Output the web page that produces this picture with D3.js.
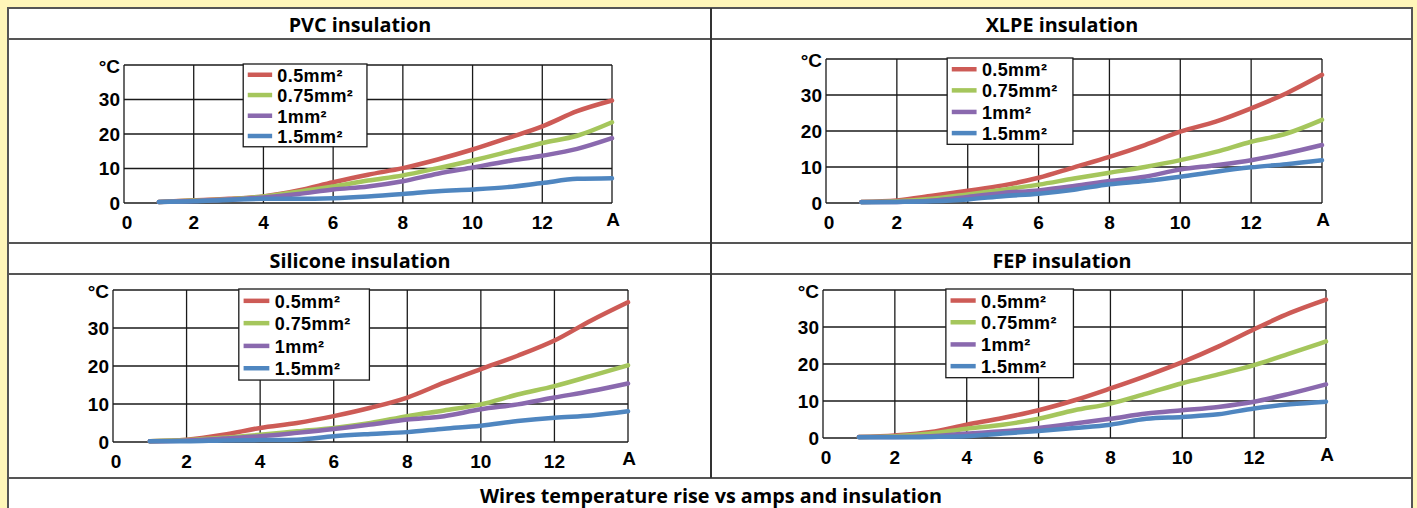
<!DOCTYPE html>
<html>
<head>
<meta charset="utf-8">
<script src="https://cdn.jsdelivr.net/npm/d3@7"></script>
<style>
  html, body { margin: 0; padding: 0; background: #fff6b9; }
  svg { display: block; }
</style>
</head>
<body>
<svg width="1417" height="508"></svg>
<script>
// amps on the x axis, one reading per amp
var amps = [1, 2, 3, 4, 5, 6, 7, 8, 9, 10, 11, 12, 13, 14];
var sizes = ["0.5mm²", "0.75mm²", "1mm²", "1.5mm²"];
var xTicks = [0, 2, 4, 6, 8, 10, 12];
var yTicks = [0, 10, 20, 30];
var titles = ["PVC insulation", "XLPE insulation", "Silicone insulation", "FEP insulation"];
var caption = "Wires temperature rise vs amps and insulation";

// temperature rise (°C)
var pvc05  = [0.3, 0.8, 1.2, 1.9, 3.6, 6.0, 8.2, 10.1, 12.6, 15.5, 18.8, 22.2, 26.6, 29.7];
var pvc075 = [0.3, 0.7, 1.1, 1.9, 3.3, 4.8, 6.5, 8.0, 10.1, 12.3, 14.8, 17.4, 19.5, 23.4];
var pvc1   = [0.3, 0.6, 1.0, 1.6, 2.6, 3.9, 4.8, 6.3, 8.5, 10.3, 12.1, 13.7, 15.7, 18.8];
var pvc15  = [0.3, 0.5, 0.9, 1.2, 1.2, 1.4, 1.9, 2.6, 3.4, 3.9, 4.6, 5.8, 7.0, 7.2];

var xlpe05  = [0.3, 0.7, 2.0, 3.4, 4.9, 7.0, 9.9, 12.8, 16.1, 19.8, 22.6, 26.3, 30.5, 35.6];
var xlpe075 = [0.3, 0.5, 1.2, 2.4, 3.7, 5.1, 6.8, 8.4, 10.0, 11.9, 14.2, 17.0, 19.3, 23.1];
var xlpe1   = [0.3, 0.3, 0.7, 1.7, 2.8, 3.5, 4.7, 6.1, 7.3, 9.3, 10.5, 11.9, 13.8, 16.1];
var xlpe15  = [0.2, 0.3, 0.5, 1.0, 1.9, 2.6, 3.7, 5.2, 6.1, 7.3, 8.7, 9.9, 10.8, 11.9];

var sil05  = [0.2, 0.6, 1.9, 3.7, 5.0, 6.8, 9.0, 11.7, 15.6, 19.2, 22.7, 26.7, 32.0, 36.8];
var sil075 = [0.2, 0.5, 1.1, 1.9, 2.8, 3.7, 5.0, 6.8, 8.3, 9.9, 12.5, 14.7, 17.4, 20.2];
var sil1   = [0.2, 0.4, 0.9, 1.5, 2.4, 3.4, 4.6, 5.9, 6.8, 8.6, 9.9, 11.7, 13.4, 15.4];
var sil15  = [0.2, 0.2, 0.4, 0.5, 0.6, 1.5, 2.1, 2.6, 3.5, 4.3, 5.5, 6.4, 7.0, 8.1];

var fep05  = [0.3, 0.7, 1.6, 3.6, 5.4, 7.5, 10.2, 13.4, 16.8, 20.5, 24.7, 29.4, 33.8, 37.4];
var fep075 = [0.3, 0.5, 1.2, 2.5, 3.6, 5.2, 7.5, 9.3, 12.0, 14.8, 17.2, 19.7, 22.9, 26.1];
var fep1   = [0.3, 0.3, 0.5, 1.2, 1.8, 2.7, 3.9, 5.2, 6.6, 7.5, 8.4, 9.8, 12.0, 14.5];
var fep15  = [0.2, 0.2, 0.3, 0.5, 1.2, 1.9, 2.7, 3.6, 5.2, 5.7, 6.4, 8.0, 9.1, 9.8];

var colours = ["#cd5b56", "#a5c65c", "#8a69ae", "#4f86c0"];

var svg = d3.select("svg");

// table grid
var tableLeft = 8, tableRight = 1412, colSplit = 711;
var rowLines = [8, 39, 243, 274, 478];

svg.append("rect")
    .attr("x", tableLeft).attr("y", 8)
    .attr("width", tableRight - tableLeft).attr("height", 520)
    .attr("fill", "#fff")
    .attr("stroke", "#555").attr("stroke-width", 2);

rowLines.slice(1).forEach(function(y) {
    svg.append("line")
        .attr("x1", tableLeft).attr("x2", tableRight)
        .attr("y1", y).attr("y2", y)
        .attr("stroke", "#555").attr("stroke-width", 2);
});
svg.append("line")
    .attr("x1", colSplit).attr("x2", colSplit)
    .attr("y1", 8).attr("y2", 478)
    .attr("stroke", "#333").attr("stroke-width", 2);

// titles
var titleFont = "'Open Sans', Lato, sans-serif";
var titlePos = [[360, 24], [1062, 24], [360, 260], [1062, 260]];
titles.forEach(function(t, i) {
    svg.append("text")
        .attr("x", titlePos[i][0]).attr("y", titlePos[i][1])
        .attr("text-anchor", "middle").attr("dominant-baseline", "central")
        .style("font-family", titleFont)
        .style("font-weight", "bold").style("font-size", "19.8px")
        .text(t);
});
svg.append("text")
    .attr("x", 711).attr("y", 495)
    .attr("text-anchor", "middle").attr("dominant-baseline", "central")
    .style("font-family", titleFont)
    .style("font-weight", "bold").style("font-size", "19.8px")
    .text(caption);

// plot boxes
var panels = [
    { left: 124, right: 612, top: 65, bottom: 203, series: [pvc05, pvc075, pvc1, pvc15] },
    { left: 826, right: 1322, top: 59, bottom: 203, series: [xlpe05, xlpe075, xlpe1, xlpe15] },
    { left: 113, right: 628, top: 290, bottom: 442, series: [sil05, sil075, sil1, sil15] },
    { left: 823, right: 1326, top: 290, bottom: 438, series: [fep05, fep075, fep1, fep15] }
];

var tickFont = "'Liberation Sans', Arial, sans-serif";

panels.forEach(function(p) {
    var x = d3.scaleLinear().domain([0, 14]).range([p.left, p.right]);
    var y = d3.scaleLinear().domain([0, 40]).range([p.bottom, p.top]);
    var g = svg.append("g");

    // grid
    g.selectAll(".vg")
        .data(xTicks.concat([14]))
        .enter().append("line")
            .attr("x1", d => x(d)).attr("x2", d => x(d))
            .attr("y1", y(0)).attr("y2", y(40))
            .attr("stroke", "#1a1a1a").attr("stroke-width", 1.3);
    g.selectAll(".hg")
        .data(yTicks.concat([40]))
        .enter().append("line")
            .attr("x1", x(0)).attr("x2", x(14))
            .attr("y1", d => y(d)).attr("y2", d => y(d))
            .attr("stroke", "#1a1a1a").attr("stroke-width", 1.3);

    // y labels
    g.selectAll(".yl")
        .data(yTicks)
        .enter().append("text")
            .attr("x", x(0) - 4).attr("y", d => y(d))
            .attr("text-anchor", "end").attr("dominant-baseline", "central")
            .style("font-family", tickFont).style("font-weight", "bold").style("font-size", "19px")
            .text(d => d);
    g.append("text")
        .attr("x", x(0) - 4).attr("y", y(40) + 1)
        .attr("text-anchor", "end").attr("dominant-baseline", "central")
        .style("font-family", tickFont).style("font-weight", "bold").style("font-size", "19px")
        .text("°C");

    // x labels
    g.selectAll(".xl")
        .data(xTicks)
        .enter().append("text")
            .attr("x", d => x(d) + (d == 0 ? 3 : 0)).attr("y", y(0) + 19)
            .attr("text-anchor", "middle").attr("dominant-baseline", "central")
            .style("font-family", tickFont).style("font-weight", "bold").style("font-size", "19px")
            .text(d => d);
    g.append("text")
        .attr("x", x(14) + 1).attr("y", y(0) + 16)
        .attr("text-anchor", "middle").attr("dominant-baseline", "central")
        .style("font-family", tickFont).style("font-weight", "bold").style("font-size", "19px")
        .text("A");

    // curves
    var line = d3.line()
        .x((d, i) => x(amps[i]))
        .y(d => y(d))
        .curve(d3.curveMonotoneX);

    p.series.forEach(function(s, i) {
        g.append("path")
            .attr("d", line(s))
            .attr("fill", "none")
            .attr("stroke", colours[i])
            .attr("stroke-width", 4.5)
            .attr("stroke-linecap", "round");
    });

    // legend
    var lx0 = x(3.42), lx1 = x(6.97), ly0 = y(40) - 1, ly1 = y(16.3);
    var lh = ly1 - ly0;
    var lg = g.append("g");
    lg.append("rect")
        .attr("x", lx0).attr("y", ly0)
        .attr("width", lx1 - lx0).attr("height", lh)
        .attr("fill", "#fff").attr("stroke", "#1a1a1a").attr("stroke-width", 1.3);
    var rows = [0.13, 0.375, 0.625, 0.87];
    sizes.forEach(function(s, i) {
        var ry = ly0 + rows[i] * lh;
        lg.append("line")
            .attr("x1", x(3.55)).attr("x2", x(4.25))
            .attr("y1", ry).attr("y2", ry)
            .attr("stroke", colours[i]).attr("stroke-width", 4.5);
        lg.append("text")
            .attr("x", x(4.4)).attr("y", ry + 1)
            .attr("dominant-baseline", "central")
            .style("font-family", tickFont).style("font-weight", "bold").style("font-size", "18px")
            .style("letter-spacing", "0.4px")
            .text(s);
    });
});
</script>
</body>
</html>
